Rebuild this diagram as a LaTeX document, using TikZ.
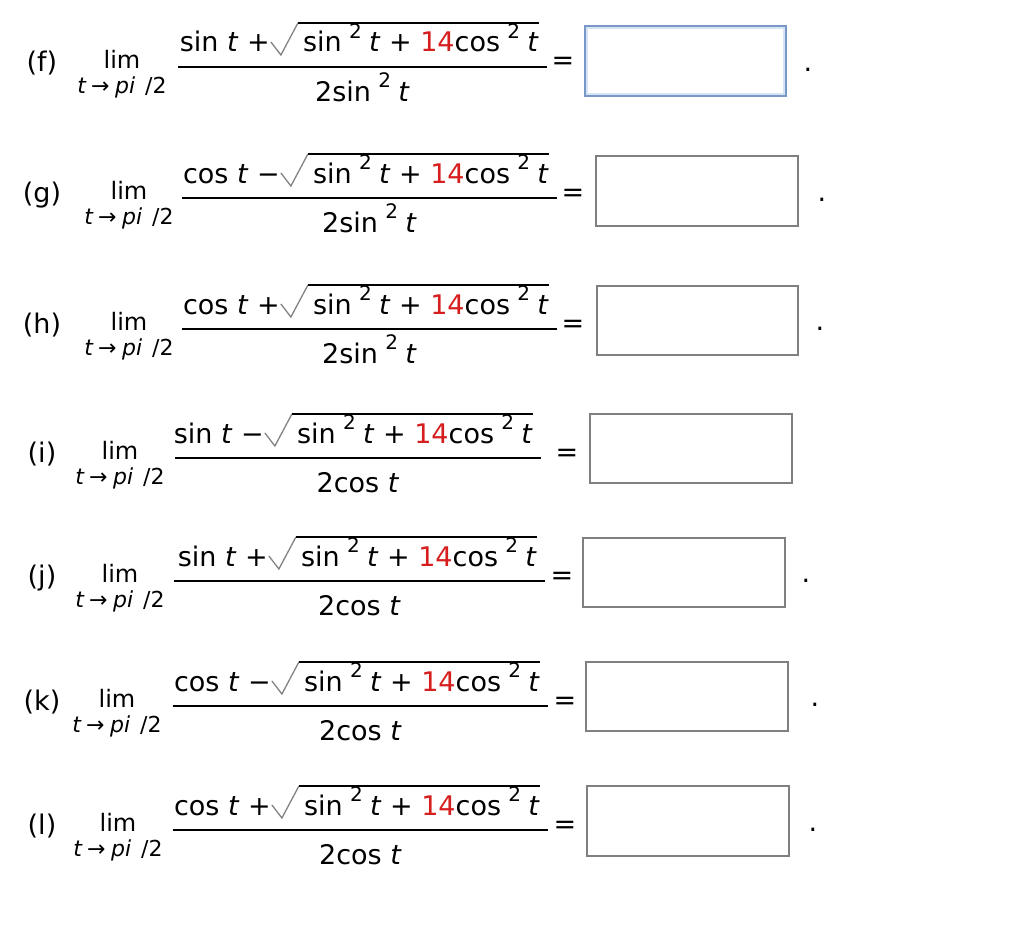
\documentclass[tikz,border=0pt]{standalone}
\usepackage{fontspec}
\setmainfont{DejaVu Sans}
\usepackage{xcolor}
\definecolor{numred}{RGB}{214,30,30}
\definecolor{radgray}{RGB}{130,130,130}
\definecolor{boxgray}{RGB}{128,128,128}
\definecolor{boxblue}{RGB}{120,152,200}
\definecolor{glowblue}{RGB}{215,228,246}
\newcommand\tv{\textit{t}}
\newcommand\sqtwo{\hspace{0.27em}\raisebox{0.5em}{\fontsize{20}{20}\selectfont 2}\hspace{0.27em}}
\usetikzlibrary{calc}
\tikzset{
  txt/.style={inner sep=0pt, font=\fontsize{27}{30}\selectfont},
  limtxt/.style={inner sep=0pt, font=\fontsize{24}{26}\selectfont},
  sub/.style={inner sep=0pt, font=\fontsize{22}{24}\selectfont},
  fracbar/.style={line width=1.6pt},
  radstroke/.style={draw=radgray, line width=1.3pt, line join=miter},
  overbar/.style={line width=1.5pt},
  ansbox/.style={draw=boxgray, line width=1.8pt, minimum width=202pt, minimum height=70pt, inner sep=0pt},
  ansboxblue/.style={ansbox, draw=boxblue},
  glow/.style={draw=glowblue, line width=2pt},
}
% #1 name, #2 bar y, #3 label, #4 lim x, #5 bar x1, #6 bar x2, #7 lead, #8 denominator, #9 eq x
\newcommand\problem[9]{%
  \node[txt, anchor=base] (lab#1) at (42,#2+4) {(#3)};
  \node[limtxt, anchor=base] (lim#1) at (#4,#2+1) {lim};
  \node[sub, anchor=base] (sub#1) at (#4,#2+26) {\tv\hspace{0.2em}→\hspace{0.25em}\textit{pi}\hspace{0.45em}/2};
  \coordinate (bl#1) at (#5,#2);
  \coordinate (br#1) at (#6,#2);
  \draw[fracbar] (bl#1) -- (br#1);
  \node[txt, anchor=base east] (rad#1) at (#6-8,#2-15) {sin\sqtwo\tv{} + \textcolor{numred}{14}cos\sqtwo\tv};
  \node[txt, anchor=base east] (lead#1) at ($(rad#1.base west)+(-33,0)$) {#7};
  \coordinate (rt#1) at ($(rad#1.base west)+(-5,-29)$);
  \draw[radstroke] ($(rt#1)+(-27,19)$) -- ($(rt#1)+(-17,32)$) -- (rt#1);
  \draw[overbar] (rt#1) -- (rt#1 -| rad#1.east);
  \node[txt, anchor=base] (den#1) at ({(#5+#6)/2},#2+34) {#8};
  \node[txt, anchor=base] (eq#1) at (#9,#2+3) {=};
}
\begin{document}
\begin{tikzpicture}[x=1pt,y=-1pt]
\useasboundingbox (0,0) rectangle (1020,942);
\problem{f}{67}{f}{122}{178}{547}{sin \tv{} +}{2sin\sqtwo\tv}{563}
\problem{g}{198}{g}{129}{182}{557}{cos \tv{} −}{2sin\sqtwo\tv}{573}
\problem{h}{329}{h}{129}{182}{557}{cos \tv{} +}{2sin\sqtwo\tv}{573}
\problem{i}{458}{i}{120}{175}{541}{sin \tv{} −}{2cos \tv}{567}
\problem{j}{581}{j}{120}{174}{545}{sin \tv{} +}{2cos \tv}{562}
\problem{k}{706}{k}{117}{173}{548}{cos \tv{} −}{2cos \tv}{565}
\problem{l}{830}{l}{118}{173}{548}{cos \tv{} +}{2cos \tv}{565}
% answer boxes
\node[ansboxblue, minimum width=201pt] (boxf) at (685.5,61) {};
\draw[glow] ($(boxf.north west)+(2.5,2.5)$) rectangle ($(boxf.south east)+(-2.5,-2.5)$);
\node[ansbox] (boxg) at (697,191) {};
\node[ansbox, minimum width=201pt, minimum height=69pt] (boxh) at (697.5,320.5) {};
\node[ansbox, minimum height=69pt] (boxi) at (691,448.5) {};
\node[ansbox, minimum height=69pt] (boxj) at (684,572.5) {};
\node[ansbox, minimum height=69pt] (boxk) at (687,696.5) {};
\node[ansbox] (boxl) at (688,821) {};
% trailing dots
\node[txt, anchor=base] (dotf) at (808,71) {.};
\node[txt, anchor=base] (dotg) at (822,201) {.};
\node[txt, anchor=base] (doth) at (820,330) {.};
\node[txt, anchor=base] (dotj) at (806,582) {.};
\node[txt, anchor=base] (dotk) at (815,706) {.};
\node[txt, anchor=base] (dotl) at (813,831) {.};
\end{tikzpicture}
\end{document}
